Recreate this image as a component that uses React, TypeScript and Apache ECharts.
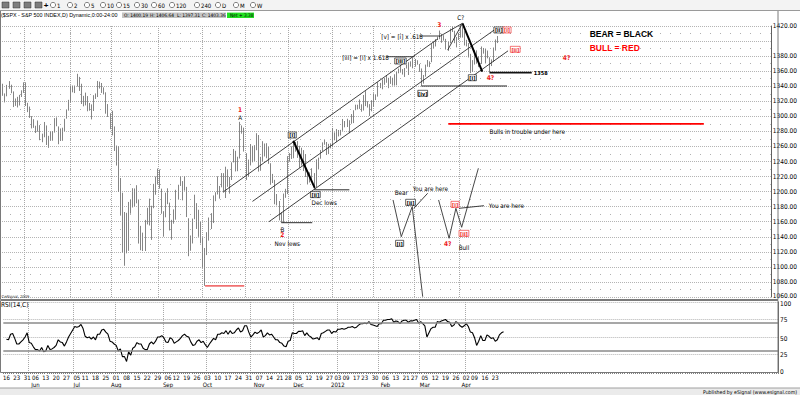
import React, { useEffect, useRef } from 'react';
import * as echarts from 'echarts';

type Row = [number, number, number, number, number]; // day, open, high, low, close

const may2011: Row[] = [
  [16,1334.8,1343.3,1327.3,1329.5],[17,1326.1,1330.4,1318.5,1329.0],[18,1328.5,1341.8,1326.6,1340.7],
  [19,1342.4,1346.8,1336.5,1343.6],[20,1342.0,1342.0,1330.7,1333.3],[23,1333.1,1333.1,1312.3,1317.4],
  [24,1317.7,1323.7,1313.9,1316.3],[25,1316.4,1325.9,1311.8,1320.5],[26,1320.6,1328.5,1314.4,1325.7],
  [27,1325.7,1334.6,1325.7,1331.1],[31,1331.1,1345.2,1331.1,1345.2],
];
const jun2011: Row[] = [
  [1,1345.2,1345.2,1313.7,1314.6],[2,1314.6,1318.0,1305.6,1312.9],[3,1313.0,1313.0,1297.9,1300.2],
  [6,1300.3,1300.3,1284.0,1286.2],[7,1286.3,1296.2,1284.7,1284.9],[8,1284.6,1287.5,1277.9,1279.6],
  [9,1279.6,1294.5,1279.6,1289.0],[10,1288.3,1288.3,1268.3,1271.0],[13,1271.3,1277.0,1265.6,1271.8],
  [14,1272.2,1292.5,1272.2,1287.9],[15,1287.9,1287.9,1261.9,1265.4],[16,1265.5,1274.1,1258.1,1267.6],
  [17,1268.6,1279.8,1267.4,1271.5],[20,1271.5,1280.4,1267.6,1278.4],[21,1278.4,1297.6,1278.4,1295.5],
  [22,1295.5,1298.6,1286.8,1287.1],[23,1286.6,1286.6,1262.9,1283.5],[24,1283.0,1283.9,1267.2,1268.5],
  [27,1268.4,1284.9,1267.5,1280.1],[28,1280.2,1296.8,1280.2,1296.7],[29,1296.9,1309.2,1296.9,1307.4],
  [30,1307.6,1321.9,1307.6,1320.6],
];
const jul2011: Row[] = [
  [1,1320.6,1341.0,1318.2,1339.7],[5,1339.6,1340.9,1331.9,1337.9],[6,1337.6,1340.9,1330.9,1339.2],
  [7,1339.6,1356.5,1339.6,1353.2],[8,1352.4,1352.4,1333.7,1343.8],[11,1343.3,1343.3,1316.4,1319.5],
  [12,1319.6,1327.2,1313.3,1313.6],[13,1314.5,1331.5,1314.5,1317.7],[14,1317.7,1326.9,1306.7,1308.9],
  [15,1308.9,1317.7,1307.5,1316.1],[18,1315.9,1315.9,1295.9,1305.4],[19,1307.1,1328.1,1307.1,1326.7],
  [20,1328.7,1330.4,1323.1,1325.8],[21,1325.6,1347.0,1325.6,1343.8],[22,1343.8,1346.1,1336.9,1345.0],
  [25,1344.3,1344.3,1331.1,1337.4],[26,1337.4,1338.5,1329.1,1331.9],[27,1331.9,1331.9,1303.5,1304.9],
  [28,1304.8,1316.3,1299.2,1300.7],[29,1300.1,1304.1,1282.9,1292.3],
];
const aug2011: Row[] = [
  [1,1292.6,1307.4,1274.7,1286.9],[2,1286.6,1286.6,1254.0,1254.1],[3,1254.3,1261.2,1234.6,1260.3],
  [4,1260.2,1260.2,1199.5,1200.1],[5,1200.3,1218.1,1168.1,1199.4],[8,1198.5,1198.5,1119.3,1119.5],
  [9,1120.2,1172.9,1101.5,1172.5],[10,1171.8,1171.8,1118.0,1120.8],[11,1121.3,1186.3,1121.3,1172.6],
  [12,1172.9,1189.0,1170.7,1178.8],[15,1178.9,1204.5,1178.9,1204.5],[16,1204.2,1204.2,1180.5,1192.8],
  [17,1192.9,1208.5,1184.4,1193.9],[18,1189.6,1189.6,1131.0,1140.7],[19,1140.5,1154.5,1122.1,1123.5],
  [22,1123.6,1145.5,1121.1,1123.8],[23,1124.4,1162.4,1121.1,1162.4],[24,1162.2,1178.5,1156.4,1177.6],
  [25,1176.7,1190.7,1155.0,1159.3],[26,1158.9,1181.2,1135.9,1176.8],[29,1177.9,1210.3,1177.9,1210.1],
  [30,1209.8,1220.1,1195.8,1212.9],[31,1213.0,1230.7,1209.4,1218.9],
];
const sep2011: Row[] = [
  [1,1219.1,1229.3,1203.9,1204.4],[2,1203.9,1203.9,1170.6,1174.0],[6,1174.0,1174.0,1140.1,1165.2],
  [7,1165.9,1198.6,1165.9,1198.6],[8,1198.0,1204.4,1183.3,1185.9],[9,1185.4,1185.4,1148.4,1154.2],
  [12,1153.5,1162.5,1136.1,1162.3],[13,1162.6,1176.4,1157.4,1172.9],[14,1173.3,1202.4,1162.7,1188.7],
  [15,1189.4,1209.1,1189.4,1209.1],[16,1209.2,1220.1,1207.5,1216.0],[19,1214.0,1214.0,1188.4,1204.1],
  [20,1204.5,1220.4,1201.3,1202.1],[21,1203.6,1206.3,1166.2,1166.8],[22,1164.6,1164.6,1114.2,1129.6],
  [23,1128.8,1141.7,1121.4,1136.4],[26,1136.9,1164.2,1131.1,1163.0],[27,1163.3,1195.9,1163.3,1175.4],
  [28,1175.4,1184.7,1150.4,1151.1],[29,1151.7,1175.9,1139.9,1160.4],[30,1159.9,1159.9,1131.3,1131.4],
];
const oct2011: Row[] = [
  [3,1131.2,1139.0,1098.9,1099.2],[4,1097.4,1125.1,1074.8,1124.0],[5,1124.0,1146.1,1115.7,1144.0],
  [6,1144.1,1165.6,1134.9,1165.0],[7,1165.0,1171.4,1150.3,1155.5],[10,1158.2,1194.9,1158.2,1194.9],
  [11,1194.6,1199.2,1187.3,1195.5],[12,1196.2,1220.3,1196.2,1207.3],[13,1207.0,1207.5,1190.6,1203.7],
  [14,1205.7,1224.6,1205.7,1224.6],[17,1224.5,1224.5,1198.6,1200.9],[18,1200.8,1233.1,1191.5,1225.4],
  [19,1223.5,1229.6,1206.3,1209.9],[20,1209.9,1219.4,1197.3,1215.4],[21,1215.4,1239.0,1215.4,1238.3],
  [24,1238.7,1256.6,1238.7,1254.2],[25,1254.2,1254.2,1226.8,1229.1],[26,1229.2,1246.3,1227.1,1242.0],
  [27,1244.0,1292.7,1244.0,1284.6],[28,1284.4,1287.9,1277.0,1285.1],[31,1285.0,1285.0,1253.2,1253.3],
];
const nov2011: Row[] = [
  [1,1251.0,1251.0,1215.4,1218.3],[2,1219.6,1242.5,1219.6,1237.9],[3,1238.3,1263.2,1234.8,1261.2],
  [4,1260.8,1260.8,1238.9,1253.2],[7,1253.2,1261.7,1240.8,1261.1],[8,1261.1,1277.6,1255.0,1275.9],
  [9,1275.2,1275.2,1226.6,1229.1],[10,1229.6,1246.2,1227.7,1239.7],[11,1240.1,1267.0,1240.1,1263.9],
  [14,1263.9,1263.9,1246.7,1251.8],[15,1251.7,1264.3,1244.3,1257.8],[16,1257.8,1259.6,1236.9,1236.9],
  [17,1236.6,1237.7,1209.4,1216.1],[18,1216.2,1223.5,1211.4,1215.7],[21,1215.6,1215.6,1183.2,1193.0],
  [22,1192.6,1196.8,1181.7,1188.0],[23,1187.5,1187.5,1161.8,1161.8],[25,1161.4,1172.7,1158.7,1158.7],
  [28,1158.7,1197.4,1158.7,1192.6],[29,1192.6,1203.7,1191.8,1195.2],[30,1196.7,1247.1,1196.7,1247.0],
];
const dec2011: Row[] = [
  [1,1246.9,1251.1,1239.7,1244.6],[2,1246.0,1260.1,1243.4,1244.3],[5,1244.3,1266.7,1244.3,1257.1],
  [6,1257.2,1266.0,1253.0,1258.5],[7,1258.1,1267.1,1244.8,1261.0],[8,1260.9,1260.9,1231.5,1234.4],
  [9,1234.5,1258.3,1234.5,1255.2],[12,1255.1,1255.1,1227.3,1236.5],[13,1236.8,1249.9,1219.4,1225.7],
  [14,1225.7,1225.7,1209.5,1211.8],[15,1212.1,1225.6,1212.1,1215.8],[16,1216.1,1231.0,1215.2,1219.7],
  [19,1219.7,1224.6,1202.4,1205.4],[20,1205.7,1242.8,1205.7,1241.3],[21,1241.3,1245.1,1229.5,1243.7],
  [22,1243.7,1255.2,1243.7,1254.0],[23,1254.0,1265.4,1254.0,1265.3],[27,1265.0,1269.4,1262.3,1265.4],
  [28,1265.4,1265.9,1248.6,1249.6],[29,1249.8,1263.5,1249.8,1263.0],[30,1262.8,1264.1,1257.5,1257.6],
];
const jan2012: Row[] = [
  [3,1258.9,1284.6,1258.9,1277.1],[4,1277.0,1278.7,1268.1,1277.3],[5,1277.3,1283.1,1265.7,1281.1],
  [6,1280.9,1281.8,1273.3,1277.8],[9,1277.8,1282.0,1274.6,1280.7],[10,1280.8,1296.5,1280.8,1292.1],
  [11,1292.0,1293.8,1285.4,1292.5],[12,1292.5,1296.8,1285.8,1295.5],[13,1294.8,1294.8,1277.6,1289.1],
  [17,1290.2,1303.0,1290.2,1293.7],[18,1293.7,1308.1,1291.0,1308.0],[19,1308.1,1315.5,1308.1,1314.5],
  [20,1314.5,1315.4,1309.2,1315.4],[23,1315.3,1322.3,1309.9,1316.0],[24,1316.0,1316.0,1306.1,1314.7],
  [25,1314.4,1328.3,1307.7,1326.1],[26,1326.3,1333.5,1313.6,1318.4],[27,1318.3,1320.1,1311.7,1316.3],
  [30,1316.2,1316.2,1300.5,1313.0],[31,1313.5,1321.4,1306.7,1312.4],
];
const feb2012: Row[] = [
  [1,1312.5,1330.5,1312.5,1324.1],[2,1324.2,1329.2,1321.6,1325.5],[3,1326.2,1345.3,1326.2,1344.9],
  [6,1344.3,1344.4,1337.5,1344.3],[7,1344.3,1349.2,1335.9,1347.1],[8,1347.0,1351.0,1341.9,1350.0],
  [9,1350.0,1354.3,1344.6,1352.0],[10,1351.2,1351.2,1337.4,1342.6],[13,1343.1,1353.4,1343.1,1351.8],
  [14,1351.3,1351.3,1340.8,1350.5],[15,1350.5,1355.9,1340.8,1343.2],[16,1342.6,1359.0,1341.2,1358.0],
  [17,1358.1,1363.4,1357.2,1361.2],[21,1361.2,1367.8,1358.1,1362.2],[22,1362.1,1362.7,1355.5,1357.7],
  [23,1357.5,1364.2,1352.3,1363.5],[24,1363.5,1368.9,1363.5,1365.7],[27,1365.2,1371.9,1354.9,1367.6],
  [28,1367.6,1373.1,1366.0,1372.2],[29,1372.2,1378.0,1363.8,1365.7],
];
const mar2012: Row[] = [
  [1,1365.9,1376.2,1365.9,1374.1],[2,1374.1,1374.5,1368.6,1369.6],[5,1369.6,1369.6,1359.1,1364.3],
  [6,1363.6,1363.6,1340.0,1343.4],[7,1343.4,1354.9,1343.4,1352.6],[8,1352.7,1368.7,1352.7,1365.9],
  [9,1366.0,1374.8,1365.9,1370.9],[12,1370.8,1373.0,1365.4,1371.1],[13,1371.9,1396.1,1371.9,1396.0],
  [14,1396.0,1399.4,1389.9,1394.3],[15,1394.2,1402.6,1392.8,1402.6],[16,1402.6,1405.9,1401.5,1404.2],
  [19,1404.2,1414.0,1402.4,1409.8],[20,1409.6,1409.6,1397.7,1405.5],[21,1405.5,1407.8,1400.6,1402.9],
  [22,1402.9,1402.9,1388.7,1392.8],[23,1392.3,1399.2,1386.9,1397.1],[26,1397.1,1416.6,1397.1,1416.5],
  [27,1416.6,1419.2,1412.0,1412.5],[28,1412.5,1413.7,1397.2,1405.5],[29,1405.4,1405.4,1391.6,1403.3],
  [30,1403.3,1410.9,1401.4,1408.5],
];
const apr2012: Row[] = [
  [2,1408.5,1422.4,1404.5,1419.0],[3,1419.0,1419.0,1404.6,1413.4],[4,1413.1,1413.1,1394.1,1399.0],
  [5,1398.8,1401.6,1392.9,1398.1],[9,1397.5,1397.5,1378.2,1382.2],[10,1382.2,1383.0,1357.4,1358.6],
  [11,1359.0,1374.7,1359.0,1368.7],[12,1368.8,1388.1,1368.8,1387.6],[13,1387.6,1387.6,1369.9,1370.3],
  [16,1370.3,1379.7,1365.4,1369.6],[17,1369.6,1392.8,1369.6,1390.8],[18,1390.8,1390.8,1383.3,1385.1],
  [19,1385.1,1390.1,1370.3,1376.9],[20,1377.0,1387.4,1377.0,1378.5],[23,1378.5,1378.5,1358.8,1366.9],
  [24,1367.0,1375.6,1366.8,1372.0],[25,1372.1,1391.4,1372.1,1390.7],[26,1390.6,1402.1,1387.3,1400.0],
  [27,1400.19,1406.64,1397.31,1403.36],
];

const monthRows: [string, Row[]][] = [
  ['2011-05', may2011], ['2011-06', jun2011], ['2011-07', jul2011], ['2011-08', aug2011],
  ['2011-09', sep2011], ['2011-10', oct2011], ['2011-11', nov2011], ['2011-12', dec2011],
  ['2012-01', jan2012], ['2012-02', feb2012], ['2012-03', mar2012], ['2012-04', apr2012],
];

// RSI(14,C)
const rsiMay2011 = [46.7,46,54,55,48,40,40,43,46,50,56];
const rsiJun2011 = [42,41,36,32,32,30,35,29,30,38,32,33,35,38,46,43,42,37,43,50,55,60];
const rsiJul2011 = [65,64,65,68,62,51,49,50,47,50,46,54,54,60,61,57,54,44,43,40];
const rsiAug2011 = [38,30,33,22,22,15,29,24,34,36,42,40,40,34,32,32,40,43,40,44,50,50,52];
const rsiSep2011 = [49,43,42,49,47,41,43,45,48,52,54,51,50,43,38,39,44,46,42,44,39];
const rsiOct2011 = [35,40,44,48,46,54,54,56,55,59,54,59,55,56,60,63,57,59,66,66,57];
const rsiNov2011 = [50,53,57,55,57,60,50,52,56,53,54,50,46,46,42,41,37,36,44,45,56];
const rsiDec2011 = [55,55,58,58,59,52,56,52,50,47,48,49,46,55,56,58,60,60,55,58,57];
const rsiJan2012 = [61,61,62,61,62,64,64,65,63,64,67,69,69,70,69,72,68,67,66,65];
const rsiFeb2012 = [69,69,74,74,75,75,76,71,73,72,69,73,74,74,71,73,73,74,75,70];
const rsiMar2012 = [72,69,66,50,56,62,64,64,72,71,73,74,75,72,71,65,67,72,70,66,64,66];
const rsiApr2012 = [69,65,57,56,49,38,44,52,45,45,53,51,48,49,44,46,53,56,57.46];

const weekStarts = [
  '2011-05-16','2011-05-23','2011-05-31','2011-06-06','2011-06-13','2011-06-20','2011-06-27',
  '2011-07-05','2011-07-11','2011-07-18','2011-07-25','2011-08-01','2011-08-08','2011-08-15',
  '2011-08-22','2011-08-29','2011-09-06','2011-09-12','2011-09-19','2011-09-26','2011-10-03',
  '2011-10-10','2011-10-17','2011-10-24','2011-10-31','2011-11-07','2011-11-14','2011-11-21',
  '2011-11-28','2011-12-05','2011-12-12','2011-12-19','2011-12-27','2012-01-03','2012-01-09',
  '2012-01-17','2012-01-23','2012-01-30','2012-02-06','2012-02-13','2012-02-21','2012-02-27',
  '2012-03-05','2012-03-12','2012-03-19','2012-03-26','2012-04-02','2012-04-09','2012-04-16',
  '2012-04-23',
];
const monthTickLabels: [string, string][] = [
  ['2011-06-06','Jun'],['2011-07-05','Jul'],['2011-08-01','Aug'],['2011-09-06','Sep'],
  ['2011-10-03','Oct'],['2011-11-07','Nov'],['2011-12-05','Dec'],['2012-01-03','2012'],
  ['2012-02-06','Feb'],['2012-03-05','Mar'],['2012-04-02','Apr'],
];
const monthFirstDays = [
  '2011-06-01','2011-07-01','2011-08-01','2011-09-01','2011-10-03','2011-11-01',
  '2011-12-01','2012-01-03','2012-02-01','2012-03-01','2012-04-02',
];
const lastPrice = 1403.36;
const lastRsi = 57.46;
const futureSlots = 132;

// annotations in (slot, price) coordinates
const channelLines = [[108,1200,212,1403],[122,1187,241,1418],[130,1160,246,1387]];
const thickLines = [[141.8,1267.6,152.2,1205],[223.9,1423.6,233.5,1359.3]];
const wedgeLines = [[212.6,1405.8,223.9,1423.6],[216.7,1388,223.9,1423.6]];
const pointerLines = [[187,1379.2,200.6,1379.2],[203,1406.7,213,1406.7],[207,1197.8,200.3,1177.8],[222.2,1177.8,234.3,1181.3]];
const blackLevels = [[136,151,1158.7],[152,169,1202.4],[204,245.5,1340.3]];
const strongLevels = [[237,257.5,1358]];
const salmonLevels = [[99,118,1074.8]];
const redLevels = [[217,341,1290]];
const bearPath = [[190.2,1188.9],[194.2,1140.1],[199.5,1180],[204.6,1060.4]];
const bullPath = [[212.3,1188.9],[217.4,1138],[220.7,1177.8],[223.5,1152.6],[231.6,1231]];
const blackNotes: [string, number, number][] = [
  ['A',116,1299],['B',136.5,1150.3],['Nov lows',138.9,1131.3],['Dec lows',156.8,1186],
  ['[iii] = [i] x 1.618',176.9,1378.4],['[v] = [i] x .618',194.6,1405.8],['C?',223.1,1431],
  ['Bulls in trouble under here',255.3,1279.9],['Bear',194.2,1199],['You are here',208.3,1203.5],
  ['Bull',224.6,1125.5],['You are here',245.2,1181.3],
];
const redNotes: [string, number, number][] = [
  ['1',116,1308.4],['2',136.5,1142.4],['3',212.6,1421.3],['4?',237.5,1351.3],['4?',274.4,1377.9],['4?',216.7,1130],
];
const blackWaves: [string, number, number][] = [
  ['[i]',141.3,1275.2],['[ii]',152.5,1196],['[iii]',193.8,1373.5],['[iv]',204.6,1330.6],
  ['[i]',228.7,1351.3],['[ii]',241.5,1414.7],['[i]',193.4,1131.3],['[ii]',198.7,1185.8],
];
const redWaves: [string, number, number][] = [
  ['[i]',245.5,1414.7],['[ii]',249.5,1389],['[i]',220.3,1183.1],['[ii]',224.6,1144.6],
];
const levelTags: [string, number, number][] = [['1358',258.5,1358]];
const legendRows: [string, number, number, string][] = [
  ['BEAR = BLACK',285.6,1409.4,'#000000'],['BULL = RED',285.6,1390.4,'#ff0000'],
];
const toolbarKeys = ['1','2','5','10','15','30','60','120','240','D','M','W'];
const quoteCells: [string, number][] = [['O: 1400.19',124],['H: 1406.64',150],['L: 1397.31',177],['C: 1403.36',202]];

const FONT = "'Liberation Sans Narrow', 'DejaVu Sans Condensed', 'Liberation Sans', Arial, sans-serif";
const SANS = "'Liberation Sans', Arial, sans-serif";
const RED = '#ee1c1c';

const pad2 = (n: number) => (n < 10 ? '0' : '') + n;
const bars = monthRows.flatMap(([ym, rows]) =>
  rows.map((r) => ({ date: `${ym}-${pad2(r[0])}`, o: r[1], h: r[2], l: r[3], c: r[4] }))
);
const rsi14 = [
  ...rsiMay2011, ...rsiJun2011, ...rsiJul2011, ...rsiAug2011, ...rsiSep2011, ...rsiOct2011,
  ...rsiNov2011, ...rsiDec2011, ...rsiJan2012, ...rsiFeb2012, ...rsiMar2012, ...rsiApr2012,
];
const categories = ['lead', ...bars.map((b) => b.date), ...Array.from({ length: futureSlots }, (_, i) => 'future-' + i)];
const weekSet = new Set(weekStarts);
const monthSet = new Set(monthFirstDays);
const monthLabelMap = new Map(monthTickLabels);

function buildOption(): any {
  const gridLine = { color: '#a9a9a9', type: 'dotted', width: 1 };
  return {
    animation: false,
    backgroundColor: '#ffffff',
    textStyle: { fontFamily: FONT },
    grid: [
      { left: 0, right: 22, top: 26, height: 271 },
      { left: 0, right: 22, top: 302, height: 70 },
    ],
    xAxis: [
      {
        type: 'category', gridIndex: 0, data: categories, boundaryGap: true,
        axisLine: { show: false }, axisTick: { show: false }, axisLabel: { show: false },
        splitLine: { show: true, interval: (_i: number, v: string) => monthSet.has(v), lineStyle: gridLine },
      },
      {
        type: 'category', gridIndex: 1, data: categories, boundaryGap: true,
        axisLine: { show: true, lineStyle: { color: '#707070', width: 1 } },
        axisTick: { show: true, interval: 0, length: 2, lineStyle: { color: '#808080' } },
        axisLabel: {
          show: true, interval: (_i: number, v: string) => weekSet.has(v),
          formatter: (v: string) => {
            const d = v.slice(8, 10);
            const m = monthLabelMap.get(v);
            return m ? d + '\n' + m : d;
          },
          fontSize: 6, lineHeight: 7, margin: 2, color: '#000', fontFamily: FONT,
        },
        splitLine: { show: true, interval: (_i: number, v: string) => monthSet.has(v), lineStyle: gridLine },
      },
    ],
    yAxis: [
      {
        type: 'value', gridIndex: 0, position: 'right', min: 1060, max: 1420, interval: 20,
        axisLine: { show: true, lineStyle: { color: '#606060' } }, axisTick: { show: false },
        axisLabel: {
          formatter: (v: number) => (Math.abs(v - 1400) < 0.01 ? '' : v === 1060 ? '{up|1060.00}' : v.toFixed(2)),
          rich: { up: { fontSize: 6.5, padding: [0, 0, 3, 0], fontFamily: FONT } },
          fontSize: 6.5, margin: 2, color: '#000', fontFamily: FONT,
        },
        splitLine: { show: true, lineStyle: { color: '#b4b4b4', type: 'dotted' } },
        minorTick: { show: false, splitNumber: 2 },
        minorSplitLine: { show: true, lineStyle: { color: '#b0b0b0', type: [1, 9] } },
      },
      {
        type: 'value', gridIndex: 1, position: 'right', min: 0, max: 100, interval: 25,
        axisLine: { show: true, lineStyle: { color: '#606060' } }, axisTick: { show: false },
        axisLabel: {
          formatter: (v: number) => (v === 100 ? '{dn|100}' : v === 50 ? '{dn|50}' : String(v)),
          rich: { dn: { fontSize: 6.5, padding: [4, 0, 0, 0], fontFamily: FONT } },
          fontSize: 6.5, margin: 2, color: '#000', fontFamily: FONT,
        },
        splitLine: { show: true, lineStyle: { color: '#b4b4b4', type: 'dotted' } },
      },
    ],
    series: [
      {
        type: 'candlestick', xAxisIndex: 0, yAxisIndex: 0, silent: true, clip: false,
        barWidth: 1,
        data: ['-', ...bars.map((b) => [b.o, b.c, b.l, b.h])],
        itemStyle: { color: '#a8a8a8', color0: '#a8a8a8', borderColor: '#858585', borderColor0: '#858585', borderWidth: 1 },
        markLine: {
          silent: true, symbol: 'none', animation: false,
          data: [{
            yAxis: lastPrice, lineStyle: { opacity: 0 },
            label: { show: true, position: 'end', distance: 2, formatter: lastPrice.toFixed(2), color: '#fff', backgroundColor: '#000', fontSize: 6.5, padding: [1, 1, 0, 1], fontFamily: FONT },
          }],
        },
      },
      {
        type: 'line', xAxisIndex: 1, yAxisIndex: 1, silent: true, symbol: 'none',
        data: ['-', ...rsi14],
        lineStyle: { color: '#000', width: 1.1 },
        markLine: {
          silent: true, symbol: 'none', animation: false, label: { show: false },
          data: [
            { yAxis: 70, lineStyle: { color: '#8a8a8a', width: 1.6, type: 'solid' } },
            { yAxis: 30, lineStyle: { color: '#8a8a8a', width: 1.6, type: 'solid' } },
            {
              yAxis: lastRsi, lineStyle: { opacity: 0 },
              label: { show: true, position: 'end', distance: 2, formatter: lastRsi.toFixed(2), color: '#fff', backgroundColor: '#000', fontSize: 6, padding: [0, 1, 0, 1], fontFamily: FONT },
            },
          ],
        },
      },
    ],
  };
}

function buildGraphics(chart: any): any[] {
  const px = (slot: number, price: number): number[] => {
    const i = Math.floor(slot);
    const a = chart.convertToPixel({ gridIndex: 0 }, [i, price]);
    const b = chart.convertToPixel({ gridIndex: 0 }, [i + 1, price]);
    return [a[0] + (slot - i) * (b[0] - a[0]), a[1]];
  };
  const els: any[] = [];
  // chrome
  els.push({ type: 'rect', z: -5, silent: true, shape: { x: 0, y: 0, width: 800, height: 10 }, style: { fill: '#f3f3f3' } });
  els.push({ type: 'line', z: 30, silent: true, shape: { x1: 0, y1: 10.5, x2: 800, y2: 10.5 }, style: { stroke: '#9a9a9a', lineWidth: 1 } });
  [2, 13, 24, 35].forEach((x) => {
    els.push({ type: 'rect', z: 30, silent: true, shape: { x, y: 2, width: 7, height: 6 }, style: { fill: '#7d7d7d', stroke: '#333333', lineWidth: 0.5 } });
  });
  els.push({ type: 'text', z: 30, silent: true, x: 46, y: 5, style: { text: '+', fill: '#000', fontSize: 8, fontWeight: 'bold', fontFamily: SANS, align: 'center', verticalAlign: 'middle' } });
  const keyX = [53, 70, 87, 103, 119, 137, 154, 172, 197, 218, 236, 253];
  toolbarKeys.forEach((k, i) => {
    els.push({ type: 'circle', z: 30, silent: true, shape: { cx: keyX[i], cy: 5, r: 2.6 }, style: { fill: '#ffffff', stroke: '#333333', lineWidth: 0.6 } });
    els.push({ type: 'text', z: 30, silent: true, x: keyX[i] + 4, y: 5.3, style: { text: k, fill: '#000', fontSize: 6, fontFamily: FONT, align: 'left', verticalAlign: 'middle' } });
  });
  els.push({ type: 'text', z: 30, silent: true, x: 1, y: 15.3, style: { text: '($SPX - S&P 500 INDEX,D) Dynamic,0:00-24:00', fill: '#000', fontSize: 5.4, fontFamily: SANS, align: 'left', verticalAlign: 'middle' } });
  els.push({ type: 'rect', z: 30, silent: true, shape: { x: 122, y: 12.6, width: 104, height: 5.4 }, style: { fill: '#c4c4c4' } });
  quoteCells.forEach(([t, x]) => {
    els.push({ type: 'text', z: 31, silent: true, x, y: 15.4, style: { text: t, fill: '#000', fontSize: 4.8, fontFamily: FONT, align: 'left', verticalAlign: 'middle' } });
  });
  els.push({ type: 'rect', z: 30, silent: true, shape: { x: 227, y: 12.6, width: 27, height: 5.4 }, style: { fill: '#22e022' } });
  els.push({ type: 'text', z: 31, silent: true, x: 230, y: 15.4, style: { text: 'Net + 3.38', fill: '#000', fontSize: 4.8, fontFamily: FONT, align: 'left', verticalAlign: 'middle' } });
  // pane frames
  els.push({ type: 'rect', z: 25, silent: true, shape: { x: 0.5, y: 10.5, width: 777.5, height: 289 }, style: { fill: 'none', stroke: '#7a7a7a', lineWidth: 1 } });
  els.push({ type: 'rect', z: 25, silent: true, shape: { x: 0.5, y: 300.5, width: 777.5, height: 72 }, style: { fill: 'none', stroke: '#7a7a7a', lineWidth: 1 } });
  els.push({ type: 'text', z: 30, silent: true, x: 1, y: 296.5, style: { text: '©eSignal, 2009', fill: '#333', fontSize: 4, fontFamily: FONT, align: 'left', verticalAlign: 'middle' } });
  els.push({ type: 'text', z: 30, silent: true, x: 1, y: 305, style: { text: 'RSI(14,C)', fill: '#000', fontSize: 6.5, fontFamily: FONT, align: 'left', verticalAlign: 'middle' } });
  // status bar
  els.push({ type: 'rect', z: 30, silent: true, shape: { x: 0, y: 388, width: 800, height: 7 }, style: { fill: '#ebebeb' } });
  els.push({ type: 'line', z: 31, silent: true, shape: { x1: 0, y1: 388, x2: 800, y2: 388 }, style: { stroke: '#a0a0a0', lineWidth: 1 } });
  els.push({ type: 'text', z: 31, silent: true, x: 797, y: 391.8, style: { text: 'Published by eSignal (www.esignal.com)', fill: '#000', fontSize: 5.2, fontFamily: FONT, align: 'right', verticalAlign: 'middle' } });

  // annotations
  const seg = (s1: number, p1: number, s2: number, p2: number, stroke: string, lineWidth: number) => {
    const [x1, y1] = px(s1, p1);
    const [x2, y2] = px(s2, p2);
    els.push({ type: 'line', z: 20, silent: true, shape: { x1, y1, x2, y2 }, style: { stroke, lineWidth } });
  };
  channelLines.forEach((l) => seg(l[0], l[1], l[2], l[3], '#2a2a2a', 0.9));
  thickLines.forEach((l) => seg(l[0], l[1], l[2], l[3], '#000', 2));
  wedgeLines.forEach((l) => seg(l[0], l[1], l[2], l[3], '#2a2a2a', 0.9));
  pointerLines.forEach((l) => seg(l[0], l[1], l[2], l[3], '#2a2a2a', 0.9));
  blackLevels.forEach((l) => seg(l[0], l[2], l[1], l[2], '#2a2a2a', 1));
  strongLevels.forEach((l) => seg(l[0], l[2], l[1], l[2], '#111', 1.8));
  salmonLevels.forEach((l) => seg(l[0], l[2], l[1], l[2], '#f07070', 1.6));
  redLevels.forEach((l) => seg(l[0], l[2], l[1], l[2], '#ff0000', 1.6));
  [bearPath, bullPath].forEach((path) => {
    els.push({ type: 'polyline', z: 20, silent: true, shape: { points: path.map(([s, p]) => px(s, p)) }, style: { stroke: '#333', lineWidth: 0.9, fill: 'none' } });
  });
  const note = (t: string, s: number, p: number, fill: string, bold: boolean, size: number) => {
    const [x, y] = px(s, p);
    els.push({ type: 'text', z: 22, silent: true, x, y, style: { text: t, fill, fontSize: size, fontWeight: bold ? 'bold' : 'normal', fontFamily: FONT, align: 'center', verticalAlign: 'middle' } });
  };
  blackNotes.forEach(([t, s, p]) => note(t, s, p, '#000', false, 6.3));
  redNotes.forEach(([t, s, p]) => note(t, s, p, RED, true, 6.5));
  const wave = (t: string, s: number, p: number, col: string) => {
    const [x, y] = px(s, p);
    const w = t.length * 1.7 + 3;
    els.push({ type: 'rect', z: 21, silent: true, shape: { x: x - w / 2, y: y - 3, width: w, height: 6 }, style: { fill: '#ffffff', stroke: col, lineWidth: 0.6 } });
    els.push({ type: 'text', z: 22, silent: true, x, y: y + 0.3, style: { text: t, fill: col, fontSize: 5.4, fontWeight: 'bold', fontFamily: FONT, align: 'center', verticalAlign: 'middle' } });
  };
  blackWaves.forEach(([t, s, p]) => wave(t, s, p, '#000000'));
  redWaves.forEach(([t, s, p]) => wave(t, s, p, RED));
  levelTags.forEach(([t, s, p]) => {
    const [x, y] = px(s, p);
    els.push({ type: 'text', z: 22, silent: true, x, y, style: { text: t, fill: '#000', fontSize: 5.5, fontWeight: 'bold', fontFamily: FONT, align: 'left', verticalAlign: 'middle' } });
  });
  legendRows.forEach(([t, s, p, col]) => {
    const [x, y] = px(s, p);
    els.push({ type: 'text', z: 22, silent: true, x, y, style: { text: t, fill: col, fontSize: 8.5, fontWeight: 'bold', fontFamily: SANS, align: 'left', verticalAlign: 'middle' } });
  });
  return els;
}

export default function App() {
  const ref = useRef<HTMLDivElement>(null);
  useEffect(() => {
    document.body.style.margin = '0';
    const chart = echarts.init(ref.current as HTMLDivElement, undefined, { renderer: 'svg', width: 800, height: 395 });
    chart.setOption(buildOption());
    chart.setOption({ graphic: { elements: buildGraphics(chart) } });
    return () => chart.dispose();
  }, []);
  return <div ref={ref} style={{ position: 'fixed', left: 0, top: 0, width: 800, height: 395, background: '#fff' }} />;
}
